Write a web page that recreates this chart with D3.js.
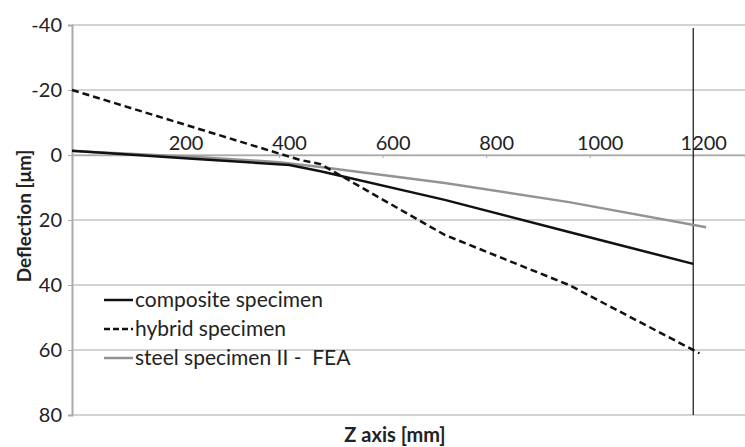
<!DOCTYPE html>
<html>
<head>
<meta charset="utf-8">
<script src="https://cdn.jsdelivr.net/npm/d3@7"></script>
<style>
  body { margin: 0; background: #fff; }
  text { font-family: Lato, 'Open Sans', sans-serif; fill: #222; white-space: pre; }
</style>
</head>
<body>
<script>
// values (z in mm, deflection in µm)
const compositeZ = [0, 240, 420, 480, 720, 960, 1200]
const compositeD = [-1.3, 1.2, 3.1, 5, 13.8, 23.7, 33.5]

const hybridZ = [0, 440, 480, 720, 960, 1212]
const hybridD = [-20, 1.5, 2.8, 24.6, 40, 61]

const steelZ = [0, 240, 400, 480, 720, 960, 1225]
const steelD = [-1.2, 0.6, 2.2, 3.7, 8.6, 14.5, 22.2]

const xTicks = [200, 400, 600, 800, 1000, 1200]
const yTicks = [-40, -20, 0, 20, 40, 60, 80]

const legendNames = ['composite specimen', 'hybrid specimen', 'steel specimen II -  FEA']

const W = 745, H = 447

const x = d3.scaleLinear().domain([0, 1300]).range([72, 745])
const y = d3.scaleLinear().domain([-40, 80]).range([25, 415])

const svg = d3.select('body').append('svg')
  .attr('width', W).attr('height', H)

// horizontal gridlines
svg.append('g')
  .selectAll('line')
  .data(yTicks)
  .join('line')
  .attr('x1', x(0)).attr('x2', W)
  .attr('y1', d => y(d)).attr('y2', d => y(d))
  .attr('stroke', '#c4c4c4').attr('stroke-width', 1.5)

// y axis, plain hyphen for negatives like the original
const yAxis = svg.append('g')
  .attr('transform', `translate(${x(0)},0)`)
  .call(d3.axisLeft(y).tickValues(yTicks).tickSize(4).tickPadding(6).tickFormat(d => String(d)))
yAxis.select('.domain').attr('stroke', '#aaa').attr('stroke-width', 2)
yAxis.selectAll('.tick line').attr('stroke', '#aaa')
yAxis.selectAll('.tick text')
  .attr('font-size', 20).attr('font-family', 'Lato, sans-serif').attr('fill', '#222')

// x axis at deflection 0, labels above the line
const xAxis = svg.append('g')
  .attr('transform', `translate(0,${y(0)})`)
  .call(d3.axisBottom(x).tickValues(xTicks).tickSize(3).tickFormat(d => String(d)))
xAxis.select('.domain').attr('stroke', '#aaa').attr('stroke-width', 1.5)
xAxis.selectAll('.tick line').attr('stroke', '#aaa')
xAxis.selectAll('.tick text')
  .attr('font-size', 20).attr('font-family', 'Lato, sans-serif').attr('fill', '#222')
  .attr('y', -5).attr('dy', 0).attr('dx', 10)

// vertical line at 1200
svg.append('line')
  .attr('x1', x(1200)).attr('x2', x(1200))
  .attr('y1', 28).attr('y2', y(80))
  .attr('stroke', '#111').attr('stroke-width', 1.2)

const line = d3.line().x(d => x(d[0])).y(d => y(d[1]))

const series = [
  { name: legendNames[2], pts: d3.zip(steelZ, steelD), color: '#939393', dash: null },
  { name: legendNames[0], pts: d3.zip(compositeZ, compositeD), color: '#111', dash: null },
  { name: legendNames[1], pts: d3.zip(hybridZ, hybridD), color: '#111', dash: '7,4' }
]

svg.append('g')
  .selectAll('path')
  .data(series)
  .join('path')
  .attr('d', d => line(d.pts))
  .attr('fill', 'none')
  .attr('stroke', d => d.color)
  .attr('stroke-width', 2.5)
  .attr('stroke-dasharray', d => d.dash)

// legend
const legendOrder = [series[1], series[2], series[0]]
const lg = svg.append('g')
  .selectAll('g')
  .data(legendOrder)
  .join('g')
  .attr('transform', (d, i) => `translate(104,${300 + i * 29})`)

lg.append('line')
  .attr('x1', 0).attr('x2', 29).attr('y1', 0).attr('y2', 0)
  .attr('stroke', d => d.color).attr('stroke-width', 2.5)
  .attr('stroke-dasharray', d => d.dash ? '6,3' : null)

lg.append('text')
  .attr('x', 31).attr('y', 7)
  .attr('font-size', 21)
  .text(d => d.name)

// axis titles
svg.append('text')
  .attr('x', 395).attr('y', 442)
  .attr('text-anchor', 'middle')
  .attr('font-size', 20).attr('font-weight', 'bold')
  .text('Z axis [mm]')

svg.append('text')
  .attr('transform', 'translate(31,216) rotate(-90)')
  .attr('text-anchor', 'middle')
  .attr('font-size', 19).attr('font-weight', 'bold')
  .text('Deflection [μm]')
</script>
</body>
</html>
